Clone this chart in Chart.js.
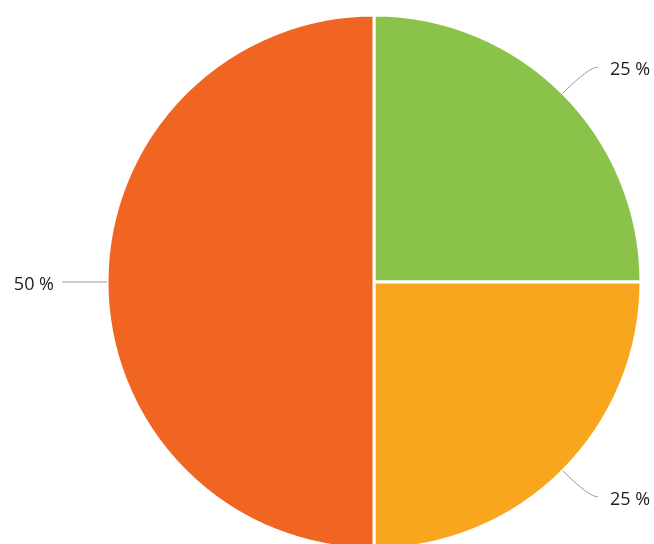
<!DOCTYPE html>
<html>
<head>
<meta charset="utf-8">
<script src="https://cdn.jsdelivr.net/npm/chart.js@4"></script>
<style>
  html, body { margin: 0; padding: 0; background: #fff; overflow: hidden; }
  #wrap { width: 654px; height: 564px; position: relative; }
</style>
</head>
<body>
<div id="wrap"><canvas id="pieChart"></canvas></div>
<script>
// Chart data
const categories = ['Option 1', 'Option 2', 'Option 3'];
const shares = [25, 25, 50];
const sliceColors = ['#8bc34a', '#f9a61f', '#ef6521'];

// Draws leader lines and percent labels outside the slices
const outerLabels = {
    id: 'outerLabels',
    afterDatasetsDraw(chart) {
        const ctx = chart.ctx;
        const meta = chart.getDatasetMeta(0);
        ctx.save();
        ctx.font = '18px "Open Sans", sans-serif';
        ctx.fillStyle = '#222';
        ctx.strokeStyle = '#999';
        ctx.lineWidth = 1;
        ctx.textBaseline = 'middle';
        meta.data.forEach((arc, i) => {
            const mid = (arc.startAngle + arc.endAngle) / 2;
            const r = arc.outerRadius;
            const x0 = arc.x + Math.cos(mid) * r;
            const y0 = arc.y + Math.sin(mid) * r;
            const x1 = arc.x + Math.cos(mid) * (r + 37);
            const y1 = arc.y + Math.sin(mid) * (r + 37);
            const right = Math.cos(mid) >= 0;
            const x2 = right ? x1 + 9 : x1 - 8;
            ctx.beginPath();
            ctx.moveTo(x0, y0);
            ctx.quadraticCurveTo(x1, y1, x2, y1);
            ctx.stroke();
            ctx.textAlign = right ? 'left' : 'right';
            ctx.fillText(shares[i] + ' %', right ? x2 + 12 : x2 - 8, y1 + 3);
        });
        ctx.restore();
    }
};

new Chart(document.getElementById('pieChart'), {
    type: 'pie',
    data: {
        labels: categories,
        datasets: [{
            data: shares,
            backgroundColor: sliceColors,
            borderColor: '#ffffff',
            borderWidth: 3
        }]
    },
    options: {
        responsive: true,
        maintainAspectRatio: false,
        animation: false,
        radius: 267,
        layout: { padding: { left: 94, right: 0, top: 0, bottom: 0 } },
        plugins: {
            legend: { display: false },
            tooltip: { enabled: false }
        }
    },
    plugins: [outerLabels]
});
</script>
</body>
</html>
